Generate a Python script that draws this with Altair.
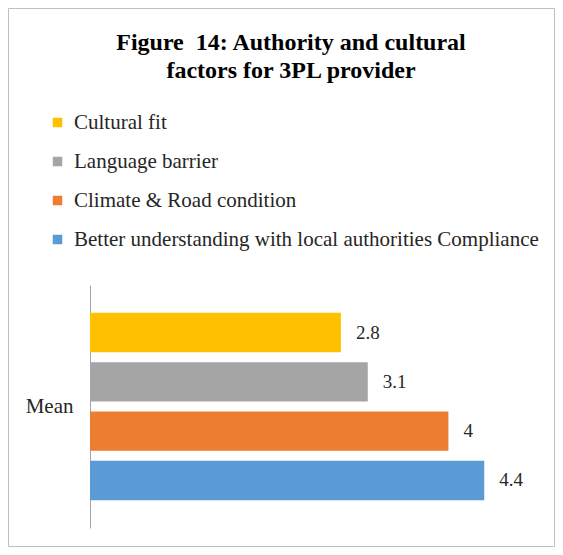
import altair as alt
import pandas as pd

series = [
    "Cultural fit",
    "Language barrier",
    "Climate & Road condition",
    "Better understanding with local authorities Compliance",
]
values = [2.8, 3.1, 4.0, 4.4]
labels = ["2.8", "3.1", "4", "4.4"]
category = ["Mean", "Mean", "Mean", "Mean"]
colors = ["#FFC000", "#A5A5A5", "#ED7D31", "#5B9BD5"]

df = pd.DataFrame({"cat": category, "series": series, "value": values, "label": labels})

SERIF = "Liberation Serif, Times New Roman, DejaVu Serif, serif"

base = alt.Chart(df).encode(
    y=alt.Y(
        "cat:N",
        title=None,
        scale=alt.Scale(paddingInner=0, paddingOuter=0),
        axis=alt.Axis(
            ticks=False,
            domainColor="#a6a6a6",
            domainWidth=1,
            labelFont=SERIF,
            labelFontSize=21,
            labelColor="#262626",
            labelPadding=17,
            labelAngle=0,
            grid=False,
        ),
    ),
    yOffset=alt.YOffset(
        "series:N",
        sort=series,
        scale=alt.Scale(domain=series, paddingInner=0.2, paddingOuter=0.565),
    ),
    x=alt.X("value:Q", scale=alt.Scale(domain=[0, 5]), axis=None),
)

bars = base.mark_bar().encode(
    color=alt.Color(
        "series:N",
        sort=series,
        scale=alt.Scale(domain=series, range=colors),
        legend=alt.Legend(
            title=None,
            orient="none",
            legendX=-43,
            legendY=-173,
            symbolType="square",
            symbolSize=90,
            symbolStrokeWidth=0,
            labelOffset=6,
            labelFont=SERIF,
            labelFontSize=21,
            labelColor="#262626",
            labelLimit=600,
            rowPadding=17,
        ),
    )
)

text = base.mark_text(
    align="left", baseline="middle", dx=15, font=SERIF, fontSize=19, color="#262626"
).encode(text="label:N")

frame = (
    alt.Chart(pd.DataFrame({"f": [0]}))
    .mark_rect(fill="transparent", stroke="#bfbfbf", strokeWidth=1)
    .encode(
        x=alt.value(-81.5),
        x2=alt.value(464.5),
        y=alt.value(-276.5),
        y2=alt.value(261.5),
    )
)

chart = (
    alt.layer(frame, bars, text)
    .properties(
        width=448,
        height=243,
        title=alt.TitleParams(
            text=["Figure\u00a0\u00a014: Authority and cultural", "factors for 3PL provider"],
            font=SERIF,
            fontSize=24,
            fontWeight="bold",
            color="#000000",
            lineHeight=28,
            anchor="middle",
            frame="group",
            dx=-23,
            dy=105,
            offset=30,
        ),
        autosize=alt.AutoSizeParams(type="none"),
        padding={"left": 82, "top": 277, "right": 17, "bottom": 19},
    )
    .configure(background="white")
    .configure_view(strokeWidth=0, stroke="transparent")
)

chart.save("out.html", embed_options={"renderer": "svg", "actions": False})
